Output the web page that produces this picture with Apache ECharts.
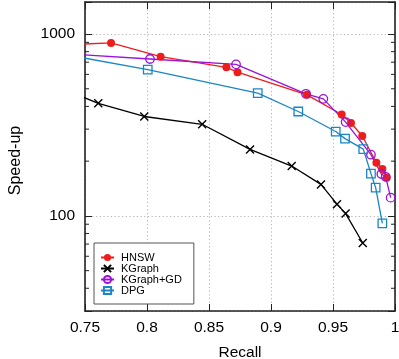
<!DOCTYPE html>
<html>
<head>
<meta charset="utf-8">
<script src="https://cdn.jsdelivr.net/npm/echarts@6/dist/echarts.min.js"></script>
<style>html,body{margin:0;padding:0;background:#fff}#c{width:399px;height:359px}</style>
</head>
<body>
<div id="c"></div>
<script>
// ---- data ----
const hnswRecall   = [0.70, 0.771, 0.811, 0.864, 0.873, 0.929, 0.957, 0.9645, 0.9736, 0.985, 0.9898, 0.9933];
const hnswSpeedup  = [855, 893, 751, 656, 617, 463, 361, 324, 275, 196, 181, 162];
const kgraphRecall  = [0.73, 0.7607, 0.7978, 0.8445, 0.8831, 0.9167, 0.9403, 0.9532, 0.9602, 0.974];
const kgraphSpeedup = [505, 416, 352, 319, 232, 188, 149, 116, 103, 71];
const kgdRecall  = [0.70, 0.8024, 0.8718, 0.9282, 0.9422, 0.9602, 0.9806, 0.989, 0.9925, 0.9965];
const kgdSpeedup = [807, 729, 681, 469, 440, 328, 217, 170, 164, 126];
const dpgRecall  = [0.70, 0.8006, 0.8893, 0.922, 0.9522, 0.9597, 0.9744, 0.9806, 0.9844, 0.9898];
const dpgSpeedup = [850, 637, 473, 375, 291, 266, 233, 171, 143, 91];
const seriesNames = ['HNSW', 'KGraph', 'KGraph+GD', 'DPG'];
const xTickLabels = ['0.75', '0.8', '0.85', '0.9', '0.95', '1'];
const yTickLabels = ['100', '1000'];
const yMinorTicks = [40, 50, 60, 70, 80, 90, 200, 300, 400, 500, 600, 700, 800, 900];

const zip = (a, b) => a.map((v, i) => [v, b[i]]);
const FONT = '"Liberation Sans", Arial, sans-serif';
const AXC = '#222';
const gridLine = {show: true, lineStyle: {color: '#b4b4b4', type: [1.2, 2.5], width: 1}};

const chart = echarts.init(document.getElementById('c'), null, {renderer: 'canvas'});
const yLab = v => {
  const l = Math.log10(v);
  if (Math.abs(l - Math.round(l)) < 1e-6) {
    const s = String(Math.round(v));
    return yTickLabels.indexOf(s) >= 0 ? s : '';
  }
  return '';
};
const xLab = v => {
  const s = String(parseFloat(v.toFixed(2)));
  return xTickLabels.indexOf(s) >= 0 ? s : '';
};

chart.setOption({
  animation: false,
  grid: {left: 85, right: 4, top: 2, bottom: 48, containLabel: false, outerBoundsMode: 'none'},
  xAxis: [{
    type: 'value', min: 0.75, max: 1, interval: 0.05, position: 'bottom',
    name: 'Recall', nameLocation: 'middle', nameGap: 34,
    nameTextStyle: {fontFamily: FONT, fontSize: 15.5, color: '#000'},
    axisLine: {show: true, onZero: false, lineStyle: {color: AXC, width: 1.6}},
    axisTick: {show: true, inside: true, length: 7, lineStyle: {color: AXC, width: 1}},
    axisLabel: {formatter: xLab, fontFamily: FONT, fontSize: 15.5, color: '#000', margin: 9},
    splitLine: gridLine
  }, {
    type: 'value', min: 0.75, max: 1, interval: 0.05, position: 'top',
    axisLine: {show: true, onZero: false, lineStyle: {color: AXC, width: 1.6}},
    axisTick: {show: true, inside: true, length: 7, lineStyle: {color: AXC, width: 1}},
    axisLabel: {show: false}, splitLine: {show: false}
  }],
  yAxis: [{
    type: 'log', logBase: 10, min: 30, max: 1500, position: 'left',
    name: 'Speed-up', nameLocation: 'middle', nameGap: 61, nameRotate: 90,
    nameTextStyle: {fontFamily: FONT, fontSize: 16, color: '#000', padding: [0, 8, 0, 0]},
    axisLine: {show: true, onZero: false, lineStyle: {color: AXC, width: 1.6}},
    axisTick: {show: true, inside: true, length: 7, lineStyle: {color: AXC, width: 1}},
    axisLabel: {formatter: yLab, fontFamily: FONT, fontSize: 15.5, color: '#000', margin: 10},
    splitLine: gridLine
  }, {
    type: 'log', logBase: 10, min: 30, max: 1500, position: 'right',
    axisLine: {show: true, onZero: false, lineStyle: {color: AXC, width: 1.6}},
    axisTick: {show: true, inside: true, length: 7, lineStyle: {color: AXC, width: 1}},
    axisLabel: {show: false}, splitLine: {show: false}
  }],
  legend: {
    data: seriesNames, orient: 'vertical', left: 94, top: 243,
    padding: [9, 12, 8, 6], itemGap: 0, itemWidth: 13, itemHeight: 9,
    backgroundColor: '#fff', borderColor: '#555', borderWidth: 1,
    textStyle: {fontFamily: FONT, fontSize: 11, lineHeight: 11, color: '#000', padding: [0, 0, 0, 2]}
  },
  series: [
    {
      type: 'custom', silent: true, clip: false, z: 5,
      data: yMinorTicks.map(v => [0.75, v]),
      renderItem: function (params, api) {
        const v = api.value(1);
        const l = api.coord([0.75, v]);
        const r = api.coord([1, v]);
        return {type: 'group', children: [
          {type: 'line', shape: {x1: l[0], y1: l[1], x2: l[0] + 4, y2: l[1]}, style: {stroke: AXC, lineWidth: 1}},
          {type: 'line', shape: {x1: r[0], y1: r[1], x2: r[0] - 4, y2: r[1]}, style: {stroke: AXC, lineWidth: 1}}
        ]};
      }
    },
    {
      name: 'HNSW', type: 'line', data: zip(hnswRecall, hnswSpeedup),
      symbol: 'circle', symbolSize: 8,
      lineStyle: {color: '#ee1d1d', width: 1.3},
      itemStyle: {color: '#ee1d1d'}
    },
    {
      name: 'KGraph', type: 'line', data: zip(kgraphRecall, kgraphSpeedup),
      symbol: 'path://M0,0L10,10M10,0L0,10', symbolSize: 8,
      lineStyle: {color: '#000', width: 1.3},
      itemStyle: {color: 'rgba(0,0,0,0)', borderColor: '#000', borderWidth: 1.4}
    },
    {
      name: 'KGraph+GD', type: 'line', data: zip(kgdRecall, kgdSpeedup),
      symbol: 'circle', symbolSize: 8.5,
      lineStyle: {color: '#9b12d8', width: 1.3},
      itemStyle: {color: 'rgba(255,255,255,0)', borderColor: '#9b12d8', borderWidth: 1.3}
    },
    {
      name: 'DPG', type: 'line', data: zip(dpgRecall, dpgSpeedup),
      symbol: 'rect', symbolSize: 8.5,
      lineStyle: {color: '#1a86c4', width: 1.3},
      itemStyle: {color: 'rgba(255,255,255,0)', borderColor: '#1a86c4', borderWidth: 1.3}
    }
  ]
});
</script>
</body>
</html>
